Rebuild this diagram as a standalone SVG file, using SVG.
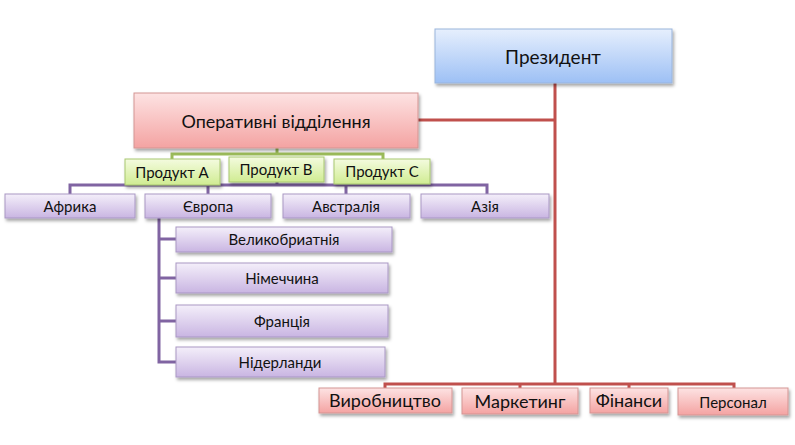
<svg xmlns="http://www.w3.org/2000/svg" width="795" height="445" viewBox="0 0 795 445">
<defs>
<linearGradient id="gBlue" x1="0" y1="0" x2="0" y2="1"><stop offset="0" stop-color="#e6effd"/><stop offset="1" stop-color="#9dc0f5"/></linearGradient>
<linearGradient id="gRed" x1="0" y1="0" x2="0" y2="1"><stop offset="0" stop-color="#fde3e3"/><stop offset="1" stop-color="#f4a3a2"/></linearGradient>
<linearGradient id="gGreen" x1="0" y1="0" x2="0" y2="1"><stop offset="0" stop-color="#f4fbdf"/><stop offset="1" stop-color="#d0ec92"/></linearGradient>
<linearGradient id="gPurple" x1="0" y1="0" x2="0" y2="1"><stop offset="0" stop-color="#f4effa"/><stop offset="1" stop-color="#c9b5e2"/></linearGradient>
<filter id="sh" x="-10%" y="-20%" width="125%" height="160%"><feDropShadow dx="1.5" dy="2.5" stdDeviation="1.5" flood-color="#000" flood-opacity="0.35"/></filter>
</defs>
<style>
rect{filter:url(#sh);}
.b{fill:url(#gBlue);stroke:#9ab5dc;stroke-width:1}
.r{fill:url(#gRed);stroke:#d49593;stroke-width:1}
.g{fill:url(#gGreen);stroke:#a8c770;stroke-width:1}
.p{fill:url(#gPurple);stroke:#a997c4;stroke-width:1}
text{font-family:Lato,"Open Sans","Liberation Sans",sans-serif;fill:#111;text-anchor:middle;dominant-baseline:central}
.cr{stroke:#c0504d;stroke-width:3;fill:none}
.cg{stroke:#9bbb59;stroke-width:3;fill:none}
.cp{stroke:#8064a2;stroke-width:3;fill:none}
</style>
<g id="connectors">
<path class="cr" d="M555 83V384M418 120H555M385 388V384H734V388M520 384V388M629 384V388"/>
<path class="cg" d="M277 148V154M172 159V154H383V159"/>
<path class="cp" d="M277 181V185M70 194V185H487V194M208 185V194M346 185V194"/>
<path class="cp" d="M159 218V362H176M159 239H176M159 278H176M159 321H176"/>
</g>
<g id="president"><rect class="b" x="435" y="29" width="237" height="54"/><text x="553" y="56" font-size="19">Президент</text></g>
<g id="operative"><rect class="r" x="134" y="93" width="284" height="55"/><text x="276" y="121" font-size="18">Оперативні відділення</text></g>
<g id="productA"><rect class="g" x="125" y="159" width="95" height="26"/><text x="172" y="172" font-size="15">Продукт A</text></g>
<g id="productB"><rect class="g" x="229" y="157" width="95" height="25"/><text x="276" y="169" font-size="15">Продукт B</text></g>
<g id="productC"><rect class="g" x="334" y="159" width="96" height="25"/><text x="382" y="171" font-size="15">Продукт C</text></g>
<g id="africa"><rect class="p" x="5" y="194" width="130" height="24"/><text x="70" y="206" font-size="15">Африка</text></g>
<g id="europe"><rect class="p" x="145" y="194" width="126" height="24"/><text x="208" y="206" font-size="15">Європа</text></g>
<g id="australia"><rect class="p" x="283" y="194" width="127" height="24"/><text x="346" y="206" font-size="15">Австралія</text></g>
<g id="asia"><rect class="p" x="421" y="194" width="128" height="24"/><text x="485" y="206" font-size="15">Азія</text></g>
<g id="gb"><rect class="p" x="176" y="227" width="216" height="25"/><text x="284" y="239" font-size="15">Великобриатнія</text></g>
<g id="de"><rect class="p" x="176" y="263" width="212" height="30"/><text x="282" y="278" font-size="15">Німеччина</text></g>
<g id="fr"><rect class="p" x="176" y="305" width="212" height="32"/><text x="282" y="321" font-size="15">Франція</text></g>
<g id="nl"><rect class="p" x="176" y="347" width="209" height="30"/><text x="280" y="362" font-size="15">Нідерланди</text></g>
<g id="production"><rect class="r" x="319" y="388" width="133" height="25"/><text x="385" y="400" font-size="18">Виробництво</text></g>
<g id="marketing"><rect class="r" x="462" y="388" width="116" height="26"/><text x="520" y="401" font-size="18">Маркетинг</text></g>
<g id="finance"><rect class="r" x="590" y="388" width="78" height="25"/><text x="629" y="400" font-size="18">Фінанси</text></g>
<g id="personnel"><rect class="r" x="678" y="388" width="110" height="27"/><text x="733" y="402" font-size="15">Персонал</text></g>
</svg>
